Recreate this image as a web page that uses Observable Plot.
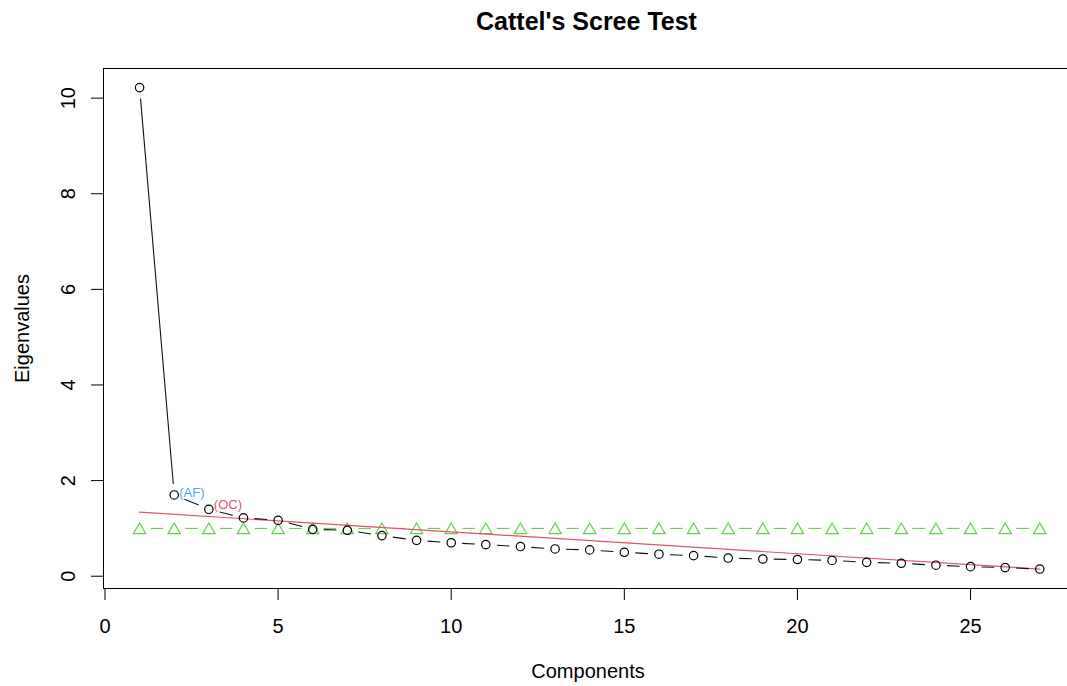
<!DOCTYPE html>
<html>
<head>
<meta charset="utf-8">
<script src="https://cdn.jsdelivr.net/npm/d3@7"></script>
<script src="https://cdn.jsdelivr.net/npm/@observablehq/plot@0.6"></script>
<style>
  html, body { margin: 0; padding: 0; background: #fff; }
  #title { position: relative; width: 1067px; height: 40px; }
  #title span { position: absolute; left: 106px; right: 0; top: 7px; line-height: 1; text-align: center;
                font: bold 25px "Liberation Sans", Arial, sans-serif; color: #000; }
  #chart svg { display: block; }
</style>
</head>
<body>
<div id="title"><span>Cattel's Scree Test</span></div>
<div id="chart"></div>
<script>
// ---- data ----
const components = [1,2,3,4,5,6,7,8,9,10,11,12,13,14,15,16,17,18,19,20,21,22,23,24,25,26,27];
const eigenvalues = [10.22,1.70,1.40,1.22,1.17,0.98,0.96,0.85,0.75,0.70,0.66,0.62,0.57,0.55,0.50,0.46,0.43,0.38,0.36,0.35,0.33,0.29,0.27,0.23,0.20,0.18,0.15];
const kaiser = components.map(() => 1);           // eigenvalue = 1 reference
const ocLineX = [1, 27];
const ocLineY = [1.34, 0.15];
const xTicks = [0, 5, 10, 15, 20, 25];
const yTicks = [0, 2, 4, 6, 8, 10];
const afLabel = {label: "(AF)", comp: 2, value: 1.70, color: "#4FA6F2"};
const ocLabel = {label: "(OC)", comp: 3, value: 1.40, color: "#DF536B"};

const FONT = '"Liberation Sans", Arial, sans-serif';
const xDomain = [-0.043, 27.80];
const yDomain = [-0.257, 10.62];
const W = 1067, H = 646, ML = 103, MR = 0, MT = 28, MB = 98;

const scaleOpts = {
  width: W, height: H, marginLeft: ML, marginRight: MR, marginTop: MT, marginBottom: MB,
  x: {domain: xDomain}, y: {domain: yDomain}
};

// first pass: obtain the scales Plot uses
const base = Plot.plot({...scaleOpts, marks: [Plot.dot([0], {x: 0, y: 0})]});
let sx = base.scale("x"), sy = base.scale("y");
const fx = sx && sx.apply ? sx : {apply: d3.scaleLinear(xDomain, [ML, W - MR]), invert: d3.scaleLinear(xDomain, [ML, W - MR]).invert};
const fy = sy && sy.apply ? sy : {apply: d3.scaleLinear(yDomain, [H - MB, MT]), invert: d3.scaleLinear(yDomain, [H - MB, MT]).invert};

// segments of an R type="b" line: gaps around each point
function gapped(xs, ys, gap) {
  const out = [];
  for (let i = 0; i < xs.length - 1; i++) {
    const ax = fx.apply(xs[i]), ay = fy.apply(ys[i]);
    const bx = fx.apply(xs[i + 1]), by = fy.apply(ys[i + 1]);
    const d = Math.hypot(bx - ax, by - ay);
    if (d <= 2 * gap) continue;
    const ux = (bx - ax) / d, uy = (by - ay) / d;
    out.push({
      x1: fx.invert(ax + ux * gap), y1: fy.invert(ay + uy * gap),
      x2: fx.invert(bx - ux * gap), y2: fy.invert(by - uy * gap)
    });
  }
  return out;
}

const eigSegs = gapped(components, eigenvalues, 11);
const kaiserSegs = gapped(components, kaiser, 11);

const chart = Plot.plot({
  ...scaleOpts,
  style: {fontFamily: FONT, fontSize: "20px", color: "#000", background: "#fff"},
  marks: [
    // frame (left, top, bottom; right side is outside the image)
    Plot.ruleX([xDomain[0]], {stroke: "#000", strokeWidth: 1}),
    Plot.ruleY(yDomain, {stroke: "#000", strokeWidth: 1}),
    // axes
    Plot.axisX({ticks: xTicks, tickSize: 12, tickPadding: 18, fontSize: 20, label: null, stroke: "#000"}),
    Plot.axisY({ticks: yTicks, tickSize: 12, tickFormat: () => "", label: null, stroke: "#000"}),
    Plot.text(yTicks, {y: d => d, text: d => String(d), frameAnchor: "left", textAnchor: "middle", lineAnchor: "middle",
                       dx: -35, rotate: -90, fontSize: 20, fill: "#000"}),
    Plot.text(["Eigenvalues"], {frameAnchor: "left", textAnchor: "middle", lineAnchor: "middle",
                                dx: -81, rotate: -90, fontSize: 20, fill: "#000"}),
    Plot.text(["Components"], {frameAnchor: "bottom", textAnchor: "middle", lineAnchor: "bottom",
                               dx: 2.5, dy: 89, fontSize: 20, fill: "#000"}),
    // Kaiser line (green triangles)
    Plot.link(kaiserSegs, {x1: "x1", y1: "y1", x2: "x2", y2: "y2", stroke: "#61D04F", strokeWidth: 1.1}),
    Plot.dot(components, {x: d => d, y: (d, i) => kaiser[i], symbol: "triangle", r: 4.6, dy: 1.7,
                          stroke: "#61D04F", fill: "none", strokeWidth: 1.2}),
    // OC regression line
    Plot.line(ocLineX.map((x, i) => ({x, y: ocLineY[i]})), {x: "x", y: "y", stroke: "#DF536B", strokeWidth: 1.2}),
    // eigenvalues
    Plot.link(eigSegs, {x1: "x1", y1: "y1", x2: "x2", y2: "y2", stroke: "#111", strokeWidth: 1.1}),
    Plot.dot(components, {x: d => d, y: (d, i) => eigenvalues[i], r: 4.2, stroke: "#000", fill: "none", strokeWidth: 1.2}),
    // annotations
    Plot.text([afLabel], {x: "comp", y: "value", text: "label", fill: "color", textAnchor: "start",
                          dx: 5, dy: -2, fontSize: 13}),
    Plot.text([ocLabel], {x: "comp", y: "value", text: "label", fill: "color", textAnchor: "start",
                          dx: 5, dy: -4, fontSize: 13})
  ]
});
document.getElementById("chart").appendChild(chart);
</script>
</body>
</html>
